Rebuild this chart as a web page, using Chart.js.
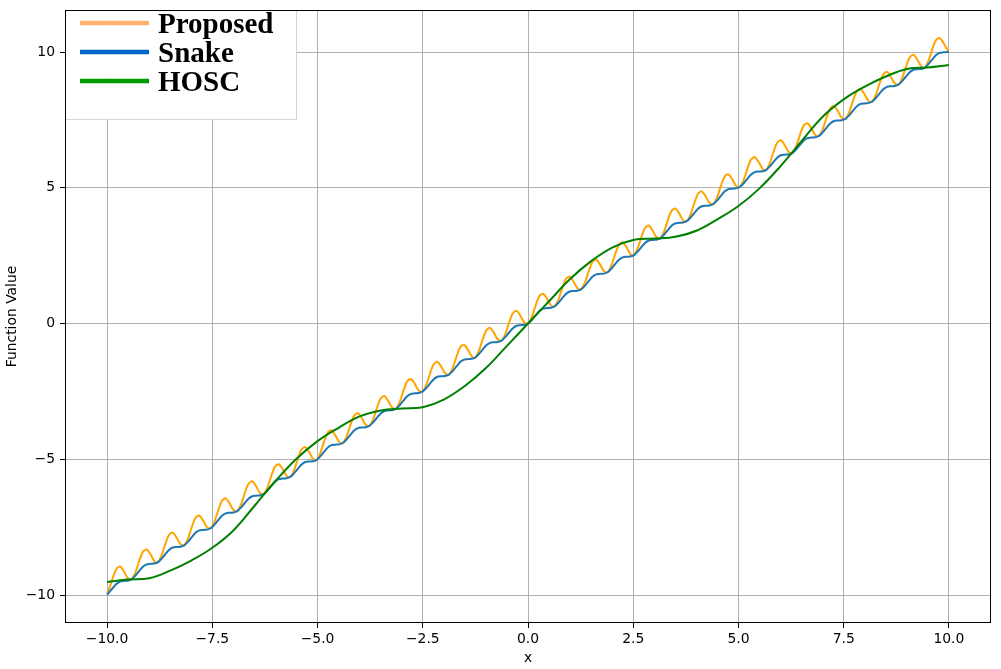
<!DOCTYPE html>
<html lang="en">
<head>
    <meta charset="UTF-8">
    <title>Proposed vs Snake vs HOSC</title>
    <script src="https://cdn.jsdelivr.net/npm/chart.js"></script>
    <style>
        html, body { margin: 0; padding: 0; background: #fff; }
        canvas { display: block; }
    </style>
</head>
<body>
    <canvas id="funcChart" width="1001" height="669"></canvas>

    <script>
        // series names (legend order)
        const seriesNames = ['Proposed', 'Snake', 'HOSC'];

        // x positions shared by Proposed and Snake (one row per oscillation)
        const xFine = [
            -10.00, -9.96, -9.87, -9.78, -9.69, -9.60, -9.51,
            -9.42, -9.33, -9.24, -9.15, -9.06, -8.97, -8.88,
            -8.80, -8.71, -8.62, -8.53, -8.44, -8.35, -8.26,
            -8.17, -8.08, -7.99, -7.90, -7.81, -7.72, -7.63,
            -7.54, -7.45, -7.36, -7.27, -7.18, -7.09, -7.00,
            -6.91, -6.82, -6.73, -6.64, -6.55, -6.46, -6.37,
            -6.28, -6.19, -6.10, -6.01, -5.92, -5.83, -5.74,
            -5.65, -5.56, -5.47, -5.38, -5.29, -5.20, -5.11,
            -5.03, -4.94, -4.85, -4.76, -4.67, -4.58, -4.49,
            -4.40, -4.31, -4.22, -4.13, -4.04, -3.95, -3.86,
            -3.77, -3.68, -3.59, -3.50, -3.41, -3.32, -3.23,
            -3.14, -3.05, -2.96, -2.87, -2.78, -2.69, -2.60,
            -2.51, -2.42, -2.33, -2.24, -2.15, -2.06, -1.97,
            -1.88, -1.79, -1.70, -1.61, -1.52, -1.43, -1.34,
            -1.26, -1.17, -1.08, -0.99, -0.90, -0.81, -0.72,
            -0.63, -0.54, -0.45, -0.36, -0.27, -0.18, -0.09,
            0.00, 0.09, 0.18, 0.27, 0.36, 0.45, 0.54,
            0.63, 0.72, 0.81, 0.90, 0.99, 1.08, 1.17,
            1.26, 1.35, 1.44, 1.53, 1.62, 1.71, 1.80,
            1.89, 1.98, 2.07, 2.16, 2.25, 2.34, 2.43,
            2.51, 2.60, 2.69, 2.78, 2.87, 2.96, 3.05,
            3.14, 3.23, 3.32, 3.41, 3.50, 3.59, 3.68,
            3.77, 3.86, 3.95, 4.04, 4.13, 4.22, 4.31,
            4.40, 4.49, 4.58, 4.67, 4.76, 4.85, 4.94,
            5.03, 5.12, 5.21, 5.30, 5.39, 5.48, 5.57,
            5.65, 5.74, 5.83, 5.92, 6.01, 6.10, 6.19,
            6.28, 6.37, 6.46, 6.55, 6.64, 6.73, 6.82,
            6.91, 7.00, 7.09, 7.18, 7.27, 7.36, 7.45,
            7.54, 7.63, 7.72, 7.81, 7.90, 7.99, 8.08,
            8.17, 8.26, 8.35, 8.44, 8.53, 8.62, 8.71,
            8.80, 8.89, 8.98, 9.07, 9.16, 9.25, 9.34,
            9.42, 9.51, 9.60, 9.69, 9.78, 9.87, 9.96, 10.00
        ];

        const proposedY = [
            -9.95, -9.81, -9.39, -9.04, -8.95, -9.13, -9.37,
            -9.42, -9.18, -8.76, -8.41, -8.32, -8.50, -8.74,
            -8.80, -8.56, -8.14, -7.79, -7.70, -7.88, -8.12,
            -8.17, -7.93, -7.51, -7.16, -7.07, -7.25, -7.49,
            -7.54, -7.30, -6.88, -6.53, -6.44, -6.62, -6.86,
            -6.91, -6.67, -6.25, -5.90, -5.81, -5.99, -6.23,
            -6.28, -6.04, -5.62, -5.27, -5.18, -5.36, -5.60,
            -5.65, -5.41, -4.99, -4.64, -4.55, -4.73, -4.97,
            -5.03, -4.79, -4.37, -4.02, -3.93, -4.11, -4.35,
            -4.40, -4.16, -3.74, -3.39, -3.30, -3.48, -3.72,
            -3.77, -3.53, -3.11, -2.76, -2.67, -2.85, -3.09,
            -3.14, -2.90, -2.48, -2.13, -2.04, -2.22, -2.46,
            -2.51, -2.27, -1.85, -1.50, -1.41, -1.59, -1.83,
            -1.88, -1.64, -1.22, -0.87, -0.78, -0.96, -1.20,
            -1.26, -1.02, -0.60, -0.25, -0.16, -0.34, -0.58,
            -0.63, -0.39, 0.03, 0.38, 0.47, 0.29, 0.05,
            0.00, 0.24, 0.66, 1.01, 1.10, 0.92, 0.68,
            0.63, 0.87, 1.29, 1.64, 1.73, 1.55, 1.31,
            1.26, 1.50, 1.92, 2.27, 2.36, 2.18, 1.94,
            1.89, 2.13, 2.55, 2.90, 2.99, 2.81, 2.57,
            2.51, 2.75, 3.17, 3.52, 3.61, 3.43, 3.19,
            3.14, 3.38, 3.80, 4.15, 4.24, 4.06, 3.82,
            3.77, 4.01, 4.43, 4.78, 4.87, 4.69, 4.45,
            4.40, 4.64, 5.06, 5.41, 5.50, 5.32, 5.08,
            5.03, 5.27, 5.69, 6.04, 6.13, 5.95, 5.71,
            5.65, 5.89, 6.31, 6.66, 6.75, 6.57, 6.33,
            6.28, 6.52, 6.94, 7.29, 7.38, 7.20, 6.96,
            6.91, 7.15, 7.57, 7.92, 8.01, 7.83, 7.59,
            7.54, 7.78, 8.20, 8.55, 8.64, 8.46, 8.22,
            8.17, 8.41, 8.83, 9.18, 9.27, 9.09, 8.85,
            8.80, 9.04, 9.46, 9.81, 9.90, 9.72, 9.48,
            9.42, 9.66, 10.08, 10.43, 10.52, 10.34, 10.10, 10.05
        ];

        const snakeY = [
            -9.99, -9.92, -9.75, -9.59, -9.50, -9.48, -9.47,
            -9.42, -9.29, -9.12, -8.96, -8.87, -8.85, -8.84,
            -8.80, -8.67, -8.50, -8.34, -8.25, -8.23, -8.22,
            -8.17, -8.04, -7.87, -7.71, -7.62, -7.60, -7.59,
            -7.54, -7.41, -7.24, -7.08, -6.99, -6.97, -6.96,
            -6.91, -6.78, -6.61, -6.45, -6.36, -6.34, -6.33,
            -6.28, -6.15, -5.98, -5.82, -5.73, -5.71, -5.70,
            -5.65, -5.52, -5.35, -5.19, -5.10, -5.08, -5.07,
            -5.03, -4.90, -4.73, -4.57, -4.48, -4.46, -4.45,
            -4.40, -4.27, -4.10, -3.94, -3.85, -3.83, -3.82,
            -3.77, -3.64, -3.47, -3.31, -3.22, -3.20, -3.19,
            -3.14, -3.01, -2.84, -2.68, -2.59, -2.57, -2.56,
            -2.51, -2.38, -2.21, -2.05, -1.96, -1.94, -1.93,
            -1.88, -1.75, -1.58, -1.42, -1.33, -1.31, -1.30,
            -1.26, -1.13, -0.96, -0.80, -0.71, -0.69, -0.68,
            -0.63, -0.50, -0.33, -0.17, -0.08, -0.06, -0.05,
            0.00, 0.13, 0.30, 0.46, 0.55, 0.57, 0.58,
            0.63, 0.76, 0.93, 1.09, 1.18, 1.20, 1.21,
            1.26, 1.39, 1.56, 1.72, 1.81, 1.83, 1.84,
            1.89, 2.02, 2.19, 2.35, 2.44, 2.46, 2.47,
            2.51, 2.64, 2.81, 2.97, 3.06, 3.08, 3.09,
            3.14, 3.27, 3.44, 3.60, 3.69, 3.71, 3.72,
            3.77, 3.90, 4.07, 4.23, 4.32, 4.34, 4.35,
            4.40, 4.53, 4.70, 4.86, 4.95, 4.97, 4.98,
            5.03, 5.16, 5.33, 5.49, 5.58, 5.60, 5.61,
            5.65, 5.78, 5.95, 6.11, 6.20, 6.22, 6.23,
            6.28, 6.41, 6.58, 6.74, 6.83, 6.85, 6.86,
            6.91, 7.04, 7.21, 7.37, 7.46, 7.48, 7.49,
            7.54, 7.67, 7.84, 8.00, 8.09, 8.11, 8.12,
            8.17, 8.30, 8.47, 8.63, 8.72, 8.74, 8.75,
            8.80, 8.93, 9.10, 9.26, 9.35, 9.37, 9.38,
            9.42, 9.55, 9.72, 9.88, 9.97, 9.99, 10.00, 10.01
        ];

        // HOSC is smooth, so a coarser grid is enough
        const xCoarse = [
            -10, -9.5, -9, -8.5, -8, -7.5, -7, -6.5, -6, -5.5, -5,
            -4.5, -4, -3.5, -3, -2.5, -2, -1.5, -1, -0.5, 0,
            0.5, 1, 1.5, 2, 2.5, 3, 3.5, 4, 4.5, 5,
            5.5, 6, 6.5, 7, 7.5, 8, 8.5, 9, 9.5, 10
        ];
        const hoscY = [
            -9.52, -9.43, -9.38, -9.10, -8.73, -8.26, -7.62, -6.72, -5.80, -4.98, -4.33,
            -3.84, -3.42, -3.20, -3.13, -3.08, -2.80, -2.30, -1.64, -0.82, 0.00,
            0.82, 1.64, 2.30, 2.80, 3.08, 3.13, 3.20, 3.42, 3.84, 4.33,
            4.98, 5.80, 6.72, 7.62, 8.26, 8.73, 9.10, 9.38, 9.43, 9.52
        ];

        // axis ticks
        const xTicks = [-10, -7.5, -5, -2.5, 0, 2.5, 5, 7.5, 10];
        const xTickLabels = ['\u221210.0', '\u22127.5', '\u22125.0', '\u22122.5', '0.0', '2.5', '5.0', '7.5', '10.0'];
        const yTicks = [-10, -5, 0, 5, 10];
        const yTickLabels = ['\u221210', '\u22125', '0', '5', '10'];

        const lineColors = ['#ffa500', '#1f77b4', '#008000'];
        const legendColors = ['#ffb36e', '#0066cc', '#009900'];

        function toPoints(xs, ys) {
            return xs.map((x, i) => ({ x: x, y: ys[i] }));
        }

        // legend box + full frame drawn by hand (matplotlib style)
        const frameAndLegend = {
            id: 'frameAndLegend',
            afterDraw(chart) {
                const ctx = chart.ctx;
                const a = chart.chartArea;
                ctx.save();

                // legend
                const lx = a.left, ly = a.top, lw = 231, lh = 109;
                ctx.fillStyle = 'rgba(255,255,255,0.95)';
                ctx.strokeStyle = '#d6d6d6';
                ctx.lineWidth = 1;
                ctx.beginPath();
                ctx.rect(lx + 0.5, ly + 0.5, lw, lh);
                ctx.fill();
                ctx.stroke();

                ctx.font = 'bold 29px "Liberation Serif", "Times New Roman", serif';
                ctx.textBaseline = 'alphabetic';
                ctx.textAlign = 'left';
                seriesNames.forEach((name, i) => {
                    const cy = ly + 13 + i * 29;
                    ctx.strokeStyle = legendColors[i];
                    ctx.lineWidth = 4.5;
                    ctx.beginPath();
                    ctx.moveTo(lx + 15, cy);
                    ctx.lineTo(lx + 84, cy);
                    ctx.stroke();
                    ctx.fillStyle = '#000';
                    ctx.fillText(name, lx + 93, cy + 10);
                });

                // spines
                ctx.strokeStyle = '#000';
                ctx.lineWidth = 1;
                ctx.strokeRect(a.left + 0.5, a.top + 0.5, a.right - a.left - 1, a.bottom - a.top - 1);
                ctx.restore();
            }
        };

        const tickFont = { family: '"DejaVu Sans", sans-serif', size: 13.9 };

        new Chart(document.getElementById('funcChart'), {
            type: 'line',
            data: {
                datasets: [
                    {
                        label: seriesNames[0],
                        data: toPoints(xFine, proposedY),
                        borderColor: lineColors[0],
                        borderWidth: 2,
                        pointRadius: 0,
                        tension: 0.3,
                        order: 3
                    },
                    {
                        label: seriesNames[1],
                        data: toPoints(xFine, snakeY),
                        borderColor: lineColors[1],
                        borderWidth: 2,
                        pointRadius: 0,
                        tension: 0.3,
                        order: 2
                    },
                    {
                        label: seriesNames[2],
                        data: toPoints(xCoarse, hoscY),
                        borderColor: lineColors[2],
                        borderWidth: 2,
                        pointRadius: 0,
                        tension: 0.4,
                        order: 1
                    }
                ]
            },
            options: {
                responsive: false,
                animation: false,
                devicePixelRatio: 1,
                layout: { padding: { top: 10, right: 10, left: 0, bottom: 0 } },
                plugins: {
                    legend: { display: false },
                    tooltip: { enabled: false }
                },
                scales: {
                    x: {
                        type: 'linear',
                        min: -11,
                        max: 11,
                        afterBuildTicks: s => { s.ticks = xTicks.map(v => ({ value: v })); },
                        afterFit: s => { s.height = 46; s.paddingLeft = 0; s.paddingRight = 0; },
                        ticks: {
                            color: '#000',
                            font: tickFont,
                            padding: 3,
                            maxRotation: 0,
                            callback: v => xTickLabels[xTicks.indexOf(v)]
                        },
                        grid: { color: '#b0b0b0', lineWidth: 1, tickLength: 5, tickColor: '#000' },
                        border: { display: false },
                        title: { display: true, text: 'x', color: '#000', font: tickFont, padding: { top: 0, bottom: 2 } }
                    },
                    y: {
                        type: 'linear',
                        min: -11.03,
                        max: 11.55,
                        afterBuildTicks: s => { s.ticks = yTicks.map(v => ({ value: v })); },
                        afterFit: s => { s.width = 65; s.paddingTop = 0; s.paddingBottom = 0; },
                        ticks: {
                            color: '#000',
                            font: tickFont,
                            padding: 5,
                            callback: v => yTickLabels[yTicks.indexOf(v)]
                        },
                        grid: { color: '#b0b0b0', lineWidth: 1, tickLength: 5, tickColor: '#000' },
                        border: { display: false },
                        title: { display: true, text: 'Function Value', color: '#000', font: tickFont, padding: { top: 4, bottom: 0 } }
                    }
                }
            },
            plugins: [frameAndLegend]
        });
    </script>
</body>
</html>
